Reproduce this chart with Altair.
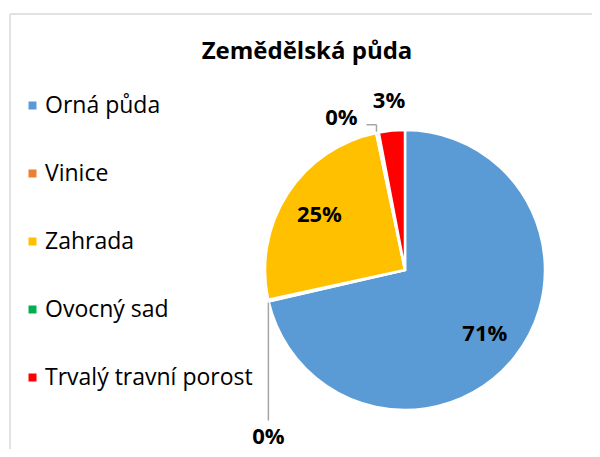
import altair as alt
import pandas as pd

categories = ["Orná půda", "Vinice", "Zahrada", "Ovocný sad", "Trvalý travní porost"]
values = [71.4, 0.2, 25.1, 0.3, 3.0]
colors = ["#5B9BD5", "#ED7D31", "#FFC000", "#00B050", "#FF0000"]
title_text = "Zemědělská půda"

df = pd.DataFrame({"cat": categories, "value": values, "idx": list(range(len(categories)))})

CX, CY, R = 397, 262, 140
FONT = "Open Sans"

base = alt.Chart(df).transform_joinaggregate(
    total="sum(value)"
).transform_window(
    cum="sum(value)", sort=[alt.SortField("idx")], frame=[None, 0]
).transform_calculate(
    mid=f"2*PI*(datum.cum - datum.value/2)/datum.total",
    label="round(datum.value) + '%'",
)

arcs = alt.Chart(df).mark_arc(radius=R, stroke="white", strokeWidth=2.5).encode(
    theta=alt.Theta("value:Q", stack=True),
    color=alt.Color(
        "cat:N",
        scale=alt.Scale(domain=categories, range=colors),
        legend=alt.Legend(
            title=None, orient="none", legendX=13, legendY=86,
            symbolType="square", symbolSize=64, symbolStrokeWidth=0,
            labelFont=FONT, labelFontSize=23, labelColor="#000000",
            rowPadding=44, labelOffset=1, padding=0, labelLimit=400,
        ),
    ),
    order=alt.Order("idx:Q"),
    x=alt.value(CX),
    y=alt.value(CY),
)

def pos_text(cond, r, dx=0, dy=0):
    return base.transform_filter(cond).transform_calculate(
        lx=f"{CX} + {r}*sin(datum.mid) + {dx}",
        ly=f"{CY} - {r}*cos(datum.mid) + {dy}",
    ).mark_text(font=FONT, fontSize=22, fontWeight="bold", color="#000000",
                baseline="middle", align="center").encode(
        x=alt.X("lx:Q", scale=None, axis=None),
        y=alt.Y("ly:Q", scale=None, axis=None),
        text="label:N",
    )

lab_big = pos_text("datum.value >= 10", 102)
lab_small = pos_text("datum.cat == 'Trvalý travní porost'", 170)
lab_vin = pos_text("datum.cat == 'Vinice'", R, 0, 136)
lab_ovo = pos_text("datum.cat == 'Ovocný sad'", R, -36, -15)

lead_col = "#A6A6A6"
lead_vin = base.transform_filter("datum.cat == 'Vinice'").transform_calculate(
    px=f"{CX} + {R}*sin(datum.mid)",
    py1=f"{CY} - {R}*cos(datum.mid) + 2",
    py2=f"{CY} - {R}*cos(datum.mid) + 120",
).mark_rule(color=lead_col, strokeWidth=1.5).encode(
    x=alt.X("px:Q", scale=None, axis=None),
    y=alt.Y("py1:Q", scale=None, axis=None),
    y2="py2:Q",
)
lead_ovo_v = base.transform_filter("datum.cat == 'Ovocný sad'").transform_calculate(
    px=f"{CX} + {R}*sin(datum.mid) - 1",
    py1=f"{CY} - {R}*cos(datum.mid) - 8",
    py2=f"{CY} - {R}*cos(datum.mid) - 1",
).mark_rule(color=lead_col, strokeWidth=1.5).encode(
    x=alt.X("px:Q", scale=None, axis=None),
    y=alt.Y("py1:Q", scale=None, axis=None),
    y2="py2:Q",
)
lead_ovo_h = base.transform_filter("datum.cat == 'Ovocný sad'").transform_calculate(
    px1=f"{CX} + {R}*sin(datum.mid) - 11",
    px2=f"{CX} + {R}*sin(datum.mid) - 1",
    py=f"{CY} - {R}*cos(datum.mid) - 8",
).mark_rule(color=lead_col, strokeWidth=1.5).encode(
    x=alt.X("px1:Q", scale=None, axis=None),
    x2="px2:Q",
    y=alt.Y("py:Q", scale=None, axis=None),
)

one = alt.Data(values=[{}])
title = alt.Chart(one).mark_text(
    text=title_text, font=FONT, fontSize=24, fontWeight="bold", color="#000000",
    align="center", baseline="alphabetic",
).encode(x=alt.value(299), y=alt.value(51))

border_top = alt.Chart(one).mark_rule(color="#D9D9D9", strokeWidth=1.5).encode(
    x=alt.value(2), x2=alt.value(800), y=alt.value(6))
border_left = alt.Chart(one).mark_rule(color="#D9D9D9", strokeWidth=1.5).encode(
    x=alt.value(2), y=alt.value(6), y2=alt.value(800))

chart = alt.layer(
    border_top, border_left, title, arcs,
    lead_vin, lead_ovo_v, lead_ovo_h,
    lab_big, lab_small, lab_vin, lab_ovo,
).properties(
    width=584, height=441,
    autosize=alt.AutoSizeParams(type="none"),
    padding=0,
    background="white",
).configure_view(stroke=None)

chart.save("out.html", embed_options={"renderer": "svg", "actions": False})
